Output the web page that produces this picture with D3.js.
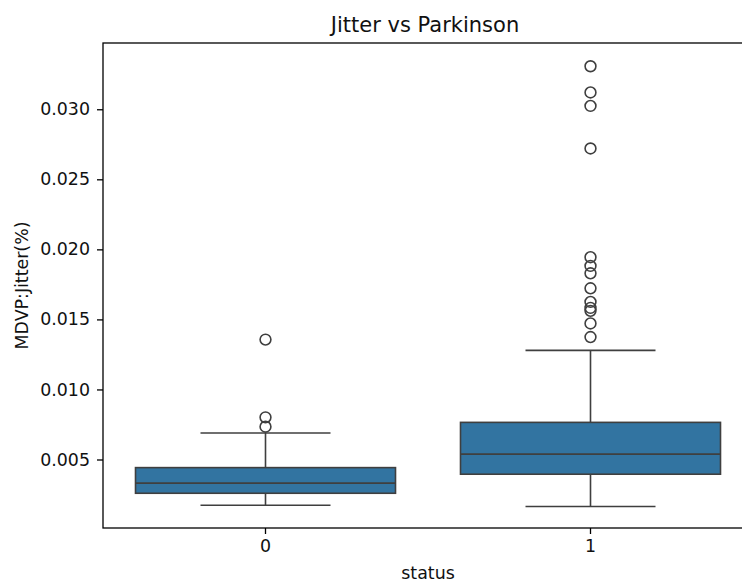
<!DOCTYPE html>
<html>
<head>
<meta charset="utf-8">
<script src="https://cdn.jsdelivr.net/npm/d3@7"></script>
<style>
  body { margin: 0; background: #fff; }
  svg { display: block; font-family: "DejaVu Sans", sans-serif; }
</style>
</head>
<body>
<svg id="chart" width="742" height="582"></svg>
<script>
// box stats, one entry per status group
var categories = ["0", "1"]
var lowWhisker = [0.00173, 0.00165]
var q1 = [0.00259, 0.00395]
var median = [0.00331, 0.00538]
var q3 = [0.00442, 0.00765]
var highWhisker = [0.00689, 0.01279]
var outliers0 = [0.00734, 0.00801, 0.01356]
var outliers1 = [0.01374, 0.01471, 0.01561, 0.01582, 0.01625, 0.01722,
                 0.01829, 0.01882, 0.01944, 0.02720, 0.03024, 0.03120, 0.03307]
var yTicks = [0.005, 0.010, 0.015, 0.020, 0.025, 0.030]

var fliers = [outliers0, outliers1]

var margin = {left: 103, top: 43, right: 753, bottom: 528}
var boxFill = "#3274a1"
var lineColor = "#3f3f3f"
var lw = 1.6

var svg = d3.select("#chart")

var x = d3.scaleBand().domain(categories)
    .range([margin.left, margin.right]).paddingInner(0).paddingOuter(0)
var y = d3.scaleLinear().domain([0.00011, 0.03473])
    .range([margin.bottom, margin.top])

var cx = c => x(c) + x.bandwidth() / 2
var boxW = x.bandwidth() * 0.8
var capW = x.bandwidth() * 0.4

var groups = categories.map((c, i) => ({
    cat: c, lo: lowWhisker[i], q1: q1[i], med: median[i],
    q3: q3[i], hi: highWhisker[i], out: fliers[i]
}))

var g = svg.selectAll(".box").data(groups).enter()
    .append("g").attr("class", "box")

// whiskers
g.append("line")
    .attr("x1", d => cx(d.cat)).attr("x2", d => cx(d.cat))
    .attr("y1", d => y(d.hi)).attr("y2", d => y(d.q3))
    .attr("stroke", lineColor).attr("stroke-width", lw)
g.append("line")
    .attr("x1", d => cx(d.cat)).attr("x2", d => cx(d.cat))
    .attr("y1", d => y(d.q1)).attr("y2", d => y(d.lo))
    .attr("stroke", lineColor).attr("stroke-width", lw)
// caps
g.selectAll(".cap").data(d => [d.lo, d.hi].map(v => ({cat: d.cat, v: v})))
    .enter().append("line").attr("class", "cap")
    .attr("x1", d => cx(d.cat) - capW / 2).attr("x2", d => cx(d.cat) + capW / 2)
    .attr("y1", d => y(d.v)).attr("y2", d => y(d.v))
    .attr("stroke", lineColor).attr("stroke-width", lw)

// box
g.append("rect")
    .attr("x", d => cx(d.cat) - boxW / 2)
    .attr("width", boxW)
    .attr("y", d => y(d.q3))
    .attr("height", d => y(d.q1) - y(d.q3))
    .attr("fill", boxFill)
    .attr("stroke", lineColor).attr("stroke-width", lw)

// median
g.append("line")
    .attr("x1", d => cx(d.cat) - boxW / 2).attr("x2", d => cx(d.cat) + boxW / 2)
    .attr("y1", d => y(d.med)).attr("y2", d => y(d.med))
    .attr("stroke", lineColor).attr("stroke-width", lw)

// fliers
g.selectAll(".flier").data(d => d.out.map(v => ({cat: d.cat, v: v})))
    .enter().append("circle").attr("class", "flier")
    .attr("cx", d => cx(d.cat)).attr("cy", d => y(d.v))
    .attr("r", 5.4)
    .attr("fill", "none")
    .attr("stroke", lineColor).attr("stroke-width", lw)

// axes
var yAxis = svg.append("g")
    .attr("transform", `translate(${margin.left},0)`)
    .call(d3.axisLeft(y).tickValues(yTicks).tickFormat(d3.format(".3f"))
        .tickSize(6).tickPadding(7))
var xAxis = svg.append("g")
    .attr("transform", `translate(0,${margin.bottom})`)
    .call(d3.axisBottom(x).tickSize(6).tickPadding(6))

;[yAxis, xAxis].forEach(a => {
    a.select(".domain").remove()
    a.selectAll("line").attr("stroke", "#000").attr("stroke-width", 1.3)
    a.selectAll("text").attr("fill", "#111").style("font-size", "17.4px")
        .style("font-family", "DejaVu Sans")
})

// spines (right one falls outside the picture)
svg.append("rect")
    .attr("x", margin.left).attr("y", margin.top)
    .attr("width", margin.right - margin.left)
    .attr("height", margin.bottom - margin.top)
    .attr("fill", "none").attr("stroke", "#000").attr("stroke-width", 1.3)

// labels
svg.append("text")
    .attr("x", (margin.left + margin.right) / 2 - 3).attr("y", 32)
    .attr("text-anchor", "middle").style("font-size", "21px").attr("fill", "#111")
    .text("Jitter vs Parkinson")

svg.append("text")
    .attr("x", (margin.left + margin.right) / 2).attr("y", 579)
    .attr("text-anchor", "middle").style("font-size", "17.4px").attr("fill", "#111")
    .text("status")

svg.append("text")
    .attr("transform", `translate(28,${(margin.top + margin.bottom) / 2}) rotate(-90)`)
    .attr("text-anchor", "middle").style("font-size", "17.4px").attr("fill", "#111")
    .text("MDVP:Jitter(%)")
</script>
</body>
</html>
